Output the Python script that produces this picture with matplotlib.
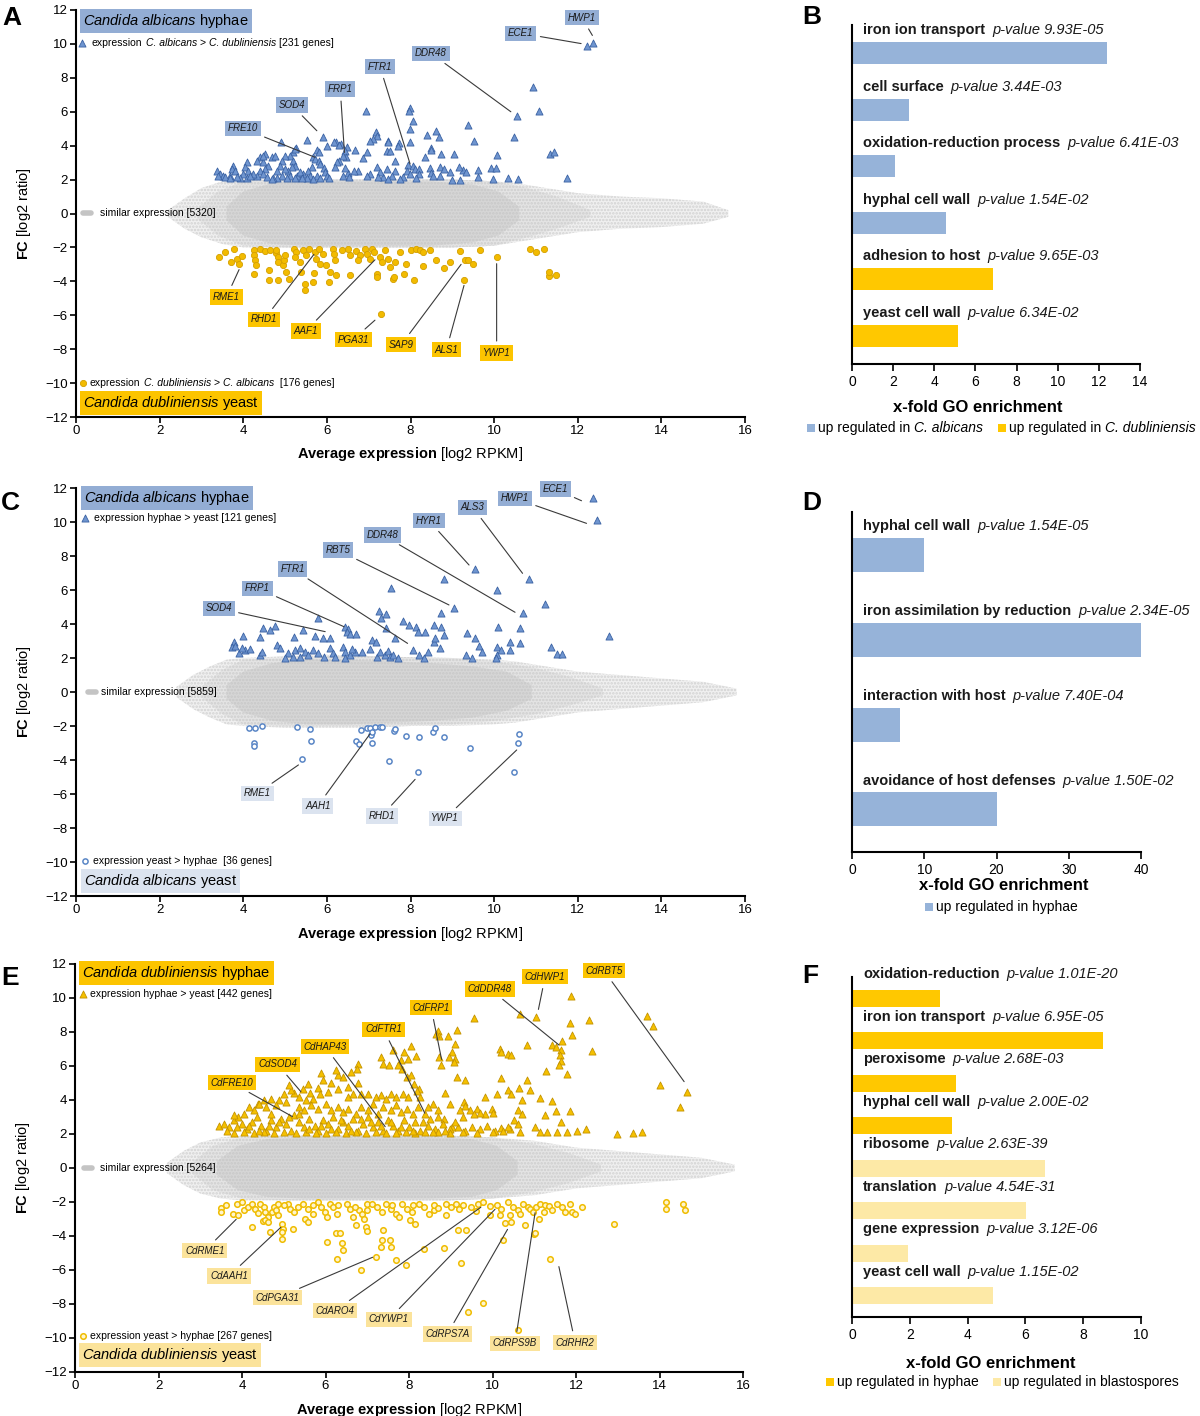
import matplotlib
matplotlib.use("Agg")
import matplotlib.pyplot as plt
from matplotlib.patches import Rectangle
from matplotlib.transforms import blended_transform_factory
import numpy as np

plt.rcParams['font.family'] = ['Liberation Sans', 'DejaVu Sans']
plt.rcParams['mathtext.fontset'] = 'custom'
plt.rcParams['mathtext.rm'] = 'Liberation Sans'
plt.rcParams['mathtext.it'] = 'Liberation Sans:italic'
plt.rcParams['mathtext.bf'] = 'Liberation Sans:bold'
plt.rcParams['hatch.linewidth'] = 1.2

# ---------------------------------------------------------------- data
# Panel A : C. albicans hyphae vs C. dubliniensis yeast
A_UP = [(10.93,7.43),(11.08,6.06),(10.54,5.76),(10.48,4.53),(9.37,5.24),(9.51,4.25),(11.34,3.51),(11.44,3.61),(11.75,2.10),(10.08,3.45),(10.34,2.10),(10.58,2.04),(9.93,2.67),(10.05,2.67),(9.61,2.59),(9.62,2.14),(9.97,2.04),(9.25,2.59),(9.33,2.43),(9.15,2.72),(8.95,2.43),(8.99,2.00),(9.19,2.00),(8.73,3.51),(9.03,3.51),(8.39,4.65),(8.61,4.84),(8.67,4.53),(8.49,3.89),(8.49,3.73),(8.35,3.31),(8.71,2.72),(8.79,2.63),(8.71,2.24),(8.47,2.70),(8.50,2.40),(8.53,2.20),(7.99,6.25),(7.97,6.06),(8.07,5.43),(7.99,4.98),(7.99,4.19),(7.73,4.14),(7.47,4.25),(7.43,3.70),(7.51,3.66),(7.17,4.78),(7.19,4.59),(7.11,4.39),(7.03,4.29),(6.94,6.06),(6.95,3.60),(6.87,3.27),(7.63,3.12),(7.95,2.88),(8.07,2.82),(8.10,2.65),(8.20,2.65),(7.91,2.53),(7.99,2.33),(7.83,2.14),(7.75,2.04),(8.20,2.33),(8.13,2.10),(7.43,2.63),(7.63,2.49),(7.55,2.24),(7.35,2.14),(7.47,2.04),(7.19,2.76),(7.27,2.43),(7.23,2.14),(7.03,2.33),(6.95,2.24),(6.67,3.74),(6.75,2.53),(6.65,2.53),(6.51,2.37),(6.54,2.14),(6.39,2.24),(6.44,2.69),(6.47,3.90),(6.44,3.70),(6.46,3.31),(6.39,3.41),(6.33,4.10),(6.22,4.19),(6.01,4.00),(5.90,4.53),(5.52,4.33),(5.76,3.74),(5.80,3.60),(5.66,3.35),(5.72,3.22),(5.80,3.12),(5.84,2.92),(6.28,3.12),(6.24,3.02),(6.20,2.76),(5.92,2.70),(5.96,2.43),(6.00,2.24),(6.04,2.10),(5.64,2.73),(5.56,2.53),(5.44,2.33),(5.60,2.24),(5.76,2.24),(5.84,2.10),(5.68,2.04),(5.52,2.10),(5.26,3.86),(5.20,3.60),(5.12,3.41),(5.20,3.12),(5.24,2.82),(5.16,2.73),(5.08,2.53),(5.12,2.24),(5.28,2.24),(5.36,2.43),(5.40,2.10),(5.24,2.10),(4.90,4.19),(5.00,3.41),(4.92,3.12),(4.88,2.82),(5.00,2.63),(4.80,2.53),(4.92,2.24),(4.80,2.10),(4.72,2.10),(5.04,2.10),(4.68,3.35),(4.76,3.41),(4.52,3.51),(4.40,3.31),(4.32,3.12),(4.48,3.02),(4.60,2.82),(4.52,2.63),(4.40,2.53),(4.48,2.33),(4.56,2.14),(4.68,2.04),(4.32,2.24),(4.24,2.33),(4.08,3.02),(4.04,2.73),(4.12,2.53),(4.00,2.33),(4.08,2.10),(3.92,2.10),(4.16,2.24),(3.76,2.82),(3.72,2.63),(3.80,2.53),(3.68,2.24),(3.84,2.14),(3.37,2.49),(3.44,2.33),(3.52,2.24),(3.40,2.24),(3.56,2.14),(3.68,2.10),(12.23,9.88),(12.36,10.08),(4.48,3.41),(5.24,3.80),(6.16,4.19),(6.30,4.06),(7.47,4.20),(7.71,4.00)]
A_DOWN = [(3.42,-2.57),(3.56,-2.27),(3.78,-2.08),(3.71,-2.86),(3.86,-2.67),(3.90,-2.96),(3.98,-2.53),(4.26,-2.18),(4.26,-2.47),(4.28,-2.76),(4.30,-3.06),(4.26,-3.55),(4.40,-2.08),(4.52,-2.22),(4.64,-2.18),(4.62,-3.35),(4.62,-3.94),(4.78,-2.33),(4.82,-2.57),(4.84,-2.86),(4.78,-2.14),(4.83,-3.94),(4.94,-3.06),(4.98,-2.76),(5.00,-2.47),(5.02,-3.45),(5.10,-3.84),(5.22,-2.08),(5.26,-2.27),(5.24,-2.57),(5.36,-2.86),(5.38,-3.45),(5.48,-4.14),(5.48,-4.49),(5.42,-2.18),(5.50,-2.47),(5.57,-2.08),(5.66,-4.04),(5.69,-3.51),(5.72,-2.27),(5.74,-2.67),(5.84,-2.96),(5.81,-2.08),(5.90,-2.37),(5.98,-3.06),(6.05,-4.04),(6.08,-3.45),(6.14,-2.08),(6.17,-2.37),(6.20,-2.76),(6.37,-2.18),(6.50,-2.08),(6.55,-2.47),(6.22,-3.60),(6.55,-3.65),(6.70,-2.22),(6.79,-2.47),(6.74,-2.76),(6.91,-2.08),(6.97,-2.37),(7.03,-2.67),(7.09,-2.08),(7.13,-2.27),(7.21,-3.55),(7.21,-3.75),(7.27,-2.57),(7.33,-2.86),(7.30,-5.90),(7.39,-2.18),(7.45,-2.67),(7.51,-3.16),(7.57,-3.84),(7.61,-3.75),(7.63,-2.86),(7.75,-2.27),(7.85,-3.55),(7.90,-2.96),(8.00,-2.18),(8.09,-3.94),(8.13,-2.08),(8.23,-2.18),(8.29,-2.27),(8.29,-3.12),(8.47,-2.18),(8.61,-2.76),(8.80,-3.20),(8.95,-2.86),(9.19,-2.22),(9.31,-2.76),(9.37,-2.73),(9.28,-3.90),(9.49,-2.96),(9.67,-2.18),(10.06,-2.57),(10.86,-2.08),(11.00,-2.27),(11.20,-2.08),(11.32,-3.70),(11.32,-3.45),(11.49,-3.65)]
A_CLOUD_X = [2.2, 2.6, 3.0, 3.5, 4.0, 5.0, 6.0, 7.0, 8.0, 9.0, 10.0, 10.5, 11.0, 11.5, 12.0, 13.0, 14.0, 15.0, 15.6]
A_CLOUD_TOP = [0.2, 0.9, 1.5, 1.9, 2.0, 2.0, 2.0, 2.0, 2.0, 2.0, 1.9, 1.8, 1.6, 1.4, 1.2, 1.0, 0.9, 0.7, 0.2]
A_CLOUD_BOT = [-0.2, -0.9, -1.4, -1.8, -2.0, -2.0, -2.0, -2.0, -2.0, -2.0, -1.9, -1.7, -1.5, -1.3, -1.1, -0.9, -0.8, -0.6, -0.2]
A_MID_X = [2.9, 3.4, 4.0, 5.0, 7.0, 9.0, 10.0, 10.8, 11.5, 12.3]
A_MID_TOP = [0.3, 1.3, 1.9, 2.0, 2.0, 2.0, 1.9, 1.5, 1.0, 0.2]
A_MID_BOT = [-0.3, -1.3, -1.9, -2.0, -2.0, -2.0, -1.9, -1.4, -0.9, -0.2]
A_CORE_X = [3.6, 4.0, 4.7, 5.5, 6.5, 7.5, 8.5, 9.5, 10.1, 10.6]
A_CORE_TOP = [0.4, 1.3, 1.8, 1.9, 1.9, 1.9, 1.9, 1.7, 1.3, 0.4]
A_CORE_BOT = [-0.4, -1.3, -1.8, -1.9, -1.9, -1.9, -1.9, -1.7, -1.3, -0.4]
A_UP_GENES = ["HWP1", "ECE1", "DDR48", "FTR1", "FRP1", "SOD4", "FRE10"]
A_UP_GENE_XY = [(12.35,10.50),(12.08,10.02),(10.40,6.00),(7.99,2.92),(6.42,3.60),(5.76,4.88),(5.72,3.31)]
A_UP_LABEL_XY = [(12.10,11.55),(10.64,10.63),(8.49,9.45),(7.27,8.66),(6.32,7.33),(5.16,6.39),(3.99,5.02)]
A_DOWN_GENES = ["RME1", "RHD1", "AAF1", "PGA31", "SAP9", "ALS1", "YWP1"]
A_DOWN_GENE_XY = [(3.90,-3.31),(5.69,-2.41),(7.15,-2.73),(7.15,-6.29),(9.21,-3.00),(9.28,-4.24),(10.06,-2.96)]
A_DOWN_LABEL_XY = [(3.60,-4.92),(4.50,-6.25),(5.50,-6.92),(6.63,-7.43),(7.78,-7.73),(8.86,-8.02),(10.06,-8.22)]

# Panel C : C. albicans hyphae vs yeast
C_UP = [(12.36,11.39),(12.45,10.11),(12.74,3.29),(9.54,7.23),(10.83,6.64),(8.79,6.64),(7.54,6.09),(10.06,5.98),(11.22,5.15),(9.04,4.92),(10.68,4.62),(8.73,4.62),(7.25,4.76),(7.42,4.56),(7.30,4.37),(5.78,4.33),(6.44,3.84),(6.50,3.70),(6.47,3.55),(6.55,3.39),(6.70,3.39),(5.42,3.64),(5.72,3.31),(5.90,3.15),(6.08,3.19),(5.21,3.25),(4.76,3.90),(4.64,3.64),(4.48,3.78),(4.40,3.25),(4.00,3.31),(3.78,2.96),(3.74,2.66),(3.80,2.72),(3.90,2.27),(4.04,2.47),(3.98,2.56),(4.16,2.53),(4.40,2.17),(4.46,2.37),(4.81,2.76),(4.87,2.56),(5.06,2.27),(5.24,2.47),(5.36,2.60),(5.48,2.37),(5.54,2.17),(5.66,2.47),(5.78,2.27),(5.93,2.07),(5.00,2.00),(5.18,2.07),(5.36,2.07),(6.08,2.56),(6.14,2.27),(6.20,2.07),(6.38,2.66),(6.44,2.37),(6.44,2.02),(6.55,2.17),(6.67,2.37),(6.61,2.53),(6.85,2.37),(7.03,2.53),(7.21,2.07),(7.27,2.37),(7.39,2.17),(7.45,2.41),(7.09,3.05),(7.18,2.96),(7.42,3.78),(7.63,3.19),(7.51,2.07),(7.57,2.17),(7.69,2.02),(7.81,4.17),(7.97,3.94),(8.14,3.84),(8.17,3.55),(8.35,3.55),(8.05,2.47),(8.20,2.17),(8.32,2.02),(8.41,2.37),(8.56,3.94),(8.73,3.84),(8.56,2.92),(8.71,2.56),(8.59,3.19),(8.79,3.35),(9.34,3.45),(9.54,3.19),(9.64,2.72),(9.72,2.37),(9.33,2.17),(9.48,2.02),(10.10,3.84),(10.07,2.66),(10.16,2.47),(10.37,2.47),(10.06,2.17),(10.04,2.02),(10.62,3.74),(10.62,2.86),(10.37,2.96),(11.35,2.66),(11.51,2.21),(11.63,2.21)]
C_DOWN = [(4.14,-2.14),(4.28,-2.14),(4.44,-2.00),(4.25,-3.02),(4.25,-3.16),(5.28,-2.08),(5.60,-2.20),(5.62,-2.86),(5.41,-3.96),(6.70,-2.86),(6.76,-3.06),(6.82,-2.24),(6.95,-2.14),(7.03,-2.14),(7.06,-2.53),(7.09,-2.33),(7.07,-3.02),(7.15,-2.08),(7.27,-2.04),(7.33,-2.08),(7.48,-4.04),(7.60,-2.27),(7.63,-2.20),(7.89,-2.59),(8.20,-2.63),(8.17,-4.73),(8.54,-2.33),(8.59,-2.14),(8.80,-2.67),(9.43,-3.27),(10.48,-4.73),(10.56,-3.02),(10.60,-2.49)]
C_CLOUD_X = [2.4, 2.8, 3.2, 3.6, 4.0, 5.0, 6.0, 7.0, 8.0, 9.0, 10.0, 10.5, 11.0, 11.5, 12.0, 13.0, 14.0, 15.0, 15.8]
C_CLOUD_TOP = [0.3, 1.0, 1.5, 1.9, 2.0, 2.1, 2.2, 2.1, 2.0, 2.0, 1.9, 1.8, 1.6, 1.4, 1.2, 1.0, 0.8, 0.6, 0.2]
C_CLOUD_BOT = [-0.3, -1.0, -1.5, -1.9, -2.0, -2.1, -2.1, -2.1, -2.0, -2.0, -1.9, -1.8, -1.6, -1.4, -1.2, -1.0, -0.8, -0.6, -0.2]
C_MID_X = [3.0, 3.5, 4.0, 5.0, 7.0, 9.0, 10.0, 11.0, 11.8, 12.6]
C_MID_TOP = [0.3, 1.3, 1.9, 2.0, 2.1, 2.0, 1.8, 1.4, 0.9, 0.2]
C_MID_BOT = [-0.3, -1.3, -1.9, -2.0, -2.0, -1.9, -1.7, -1.3, -0.8, -0.2]
C_CORE_X = [3.6, 4.0, 4.7, 5.5, 6.5, 7.5, 8.5, 9.5, 10.3, 10.9]
C_CORE_TOP = [0.4, 1.2, 1.7, 1.9, 1.9, 1.8, 1.7, 1.5, 1.2, 0.4]
C_CORE_BOT = [-0.4, -1.2, -1.7, -1.9, -1.9, -1.8, -1.7, -1.5, -1.1, -0.4]
C_UP_GENES = ["ECE1", "HWP1", "ALS3", "HYR1", "DDR48", "RBT5", "FTR1", "FRP1", "SOD4"]
C_UP_GENE_XY = [(12.09,11.25),(12.21,9.92),(10.68,6.98),(9.40,7.47),(10.50,4.69),(8.92,5.12),(7.93,2.86),(6.41,3.84),(5.96,3.55)]
C_UP_LABEL_XY = [(11.46,11.94),(10.50,11.39),(9.49,10.86),(8.44,10.08),(7.33,9.24),(6.26,8.35),(5.18,7.24),(4.34,6.10),(3.41,4.92)]
C_DOWN_GENES = ["RME1", "AAH1", "RHD1", "YWP1"]
C_DOWN_GENE_XY = [(5.32,-4.29),(7.03,-2.47),(8.11,-5.14),(10.54,-3.41)]
C_DOWN_LABEL_XY = [(4.34,-5.96),(5.78,-6.71),(7.31,-7.29),(8.83,-7.43)]

# Panel E : C. dubliniensis hyphae vs yeast
E_UP = [(11.88,10.12),(13.69,8.94),(13.85,8.35),(12.32,8.70),(11.85,8.54),(11.05,8.90),(10.65,9.04),(9.55,8.80),(11.90,7.80),(10.83,7.26),(11.43,7.22),(11.52,7.09),(11.67,7.48),(11.64,6.97),(11.62,6.63),(11.64,6.30),(11.60,6.04),(11.29,5.71),(11.79,5.51),(12.38,6.87),(10.18,6.99),(10.21,6.83),(10.36,6.69),(10.44,6.63),(10.83,5.16),(10.63,4.70),(10.90,4.60),(10.21,5.30),(10.38,4.60),(10.71,3.98),(10.44,4.37),(11.43,3.94),(11.13,4.11),(11.25,3.09),(11.52,3.35),(11.85,3.33),(11.64,2.70),(10.60,3.43),(10.71,3.19),(10.51,2.80),(10.60,2.60),(10.42,2.30),(10.65,2.10),(11.01,2.40),(11.13,2.10),(11.31,2.10),(11.55,2.10),(11.79,2.10),(12.02,2.17),(12.24,2.30),(12.98,2.00),(13.37,2.05),(13.57,2.10),(14.00,4.90),(14.49,3.58),(14.67,4.47),(9.82,4.17),(10.10,4.33),(10.21,2.36),(9.98,3.48),(10.00,3.23),(9.82,3.19),(9.64,3.48),(9.70,3.23),(9.46,3.43),(9.55,3.19),(9.31,3.88),(9.35,3.62),(9.23,3.43),(9.29,2.99),(9.14,5.35),(9.35,5.20),(9.02,6.83),(9.11,6.44),(9.08,6.24),(9.14,8.11),(9.11,7.28),(8.93,7.76),(8.96,6.54),(8.86,4.41),(8.69,8.07),(8.71,7.76),(8.65,7.91),(8.77,6.04),(8.71,6.54),(8.99,3.74),(8.85,2.89),(9.02,2.40),(8.57,3.74),(8.69,3.39),(8.69,3.00),(8.51,2.89),(8.45,3.60),(8.39,3.19),(8.27,4.17),(8.24,4.67),(8.17,6.59),(8.05,7.17),(7.87,6.83),(7.98,6.44),(7.80,6.34),(7.62,6.93),(7.83,5.85),(7.95,5.35),(8.04,5.45),(8.12,4.92),(8.19,4.53),(7.32,6.54),(7.38,6.14),(7.52,6.04),(7.74,6.04),(6.79,6.14),(6.76,5.85),(6.61,5.65),(6.31,5.45),(6.25,5.75),(6.43,5.35),(5.89,5.59),(5.95,5.16),(6.13,5.00),(6.55,4.76),(6.79,5.00),(5.81,4.72),(5.57,4.96),(5.45,4.67),(5.62,4.41),(5.87,4.37),(6.07,4.47),(6.31,4.67),(6.55,4.17),(6.67,4.37),(6.85,4.37),(7.02,4.33),(7.20,4.17),(7.32,4.27),(7.44,4.07),(7.56,4.33),(7.68,4.17),(7.86,4.37),(7.98,4.17),(5.00,4.33),(5.24,4.41),(5.18,4.61),(4.88,4.02),(5.06,3.88),(5.36,4.17),(5.54,3.98),(5.71,4.07),(4.38,3.78),(4.52,3.98),(4.70,4.07),(5.36,3.60),(5.48,3.39),(5.65,3.68),(5.83,3.48),(6.01,3.78),(6.13,3.39),(6.31,3.58),(6.43,3.29),(6.55,3.48),(6.73,3.19),(6.85,3.58),(7.02,3.39),(7.14,3.78),(7.26,3.19),(7.38,3.58),(7.56,3.39),(7.68,3.68),(7.80,3.29),(7.95,3.48),(8.10,3.19),(8.21,3.58),
        (3.45,2.46),(3.57,2.60),(3.69,2.40),(3.81,2.80),(3.90,2.99),(3.99,2.60),(4.11,2.30),(4.23,2.70),(4.35,2.99),(4.46,2.50),(4.58,2.20),(4.70,2.80),(4.82,2.40),(4.94,2.89),(5.06,2.60),(5.18,2.20),(5.24,3.09),(5.36,2.70),(5.48,2.40),(5.60,2.89),(5.74,2.50),(5.83,2.20),(5.95,2.80),(6.07,2.60),(6.19,2.99),(6.31,2.30),(6.43,2.70),(6.55,2.50),(6.67,2.89),(6.79,2.20),(6.90,2.60),(7.02,2.99),(7.14,2.40),(7.26,2.70),(7.38,2.20),(7.50,2.80),(7.62,2.50),(7.74,2.20),(7.88,2.80),(8.00,2.40),(8.15,2.70),(8.27,2.20),(8.45,2.50),(8.63,2.30),(8.81,2.60),(8.99,2.30),(9.17,2.40),(9.35,2.20),(9.52,2.44),(9.70,2.30),(9.88,2.50),(10.06,2.20),(10.26,2.20),(10.36,2.44),
        (3.81,2.05),(4.05,2.10),(4.29,2.05),(4.52,2.10),(4.76,2.05),(5.00,2.10),(5.30,2.05),(5.54,2.10),(5.77,2.05),(6.01,2.05),(6.25,2.10),(6.49,2.05),(6.73,2.10),(6.96,2.05),(7.20,2.10),(7.44,2.05),(7.68,2.05),(7.92,2.10),(8.15,2.05),(8.39,2.10),(8.69,2.10),(8.99,2.05),(9.29,2.10),(9.64,2.05),(10.00,2.10),
        (3.63,2.20),(3.87,2.40),(4.17,2.50),(4.40,2.20),(4.64,2.50),(4.88,2.70),(5.12,2.99),(5.36,3.19),(5.60,2.30),(5.89,2.50),(6.13,2.30),(6.37,2.80),(6.61,2.20),(6.85,2.89),(7.08,2.70),(7.32,2.50),(7.56,2.70),(7.80,2.40),(8.10,2.20),(8.33,2.70),(8.57,2.10),(8.87,2.20),(9.11,2.70),
        (5.12,4.86),(4.40,3.74),(4.58,3.58),(4.82,3.68),(4.70,3.19),(4.29,3.39),(4.05,3.19),(3.81,3.09),(4.17,3.58)]
E_DOWN = [(3.50,-2.33),(3.50,-2.59),(3.61,-2.20),(3.79,-2.68),(3.91,-2.78),(3.89,-2.10),(4.00,-2.00),(4.05,-2.49),(4.15,-2.29),(4.24,-2.10),(4.32,-2.39),(4.38,-2.64),(4.24,-3.46),(4.44,-2.10),(4.53,-2.29),(4.56,-2.59),(4.62,-2.88),(4.50,-3.11),(4.56,-3.03),(4.62,-3.17),(4.72,-2.59),(4.76,-2.29),(4.86,-2.10),(4.68,-3.76),(4.81,-2.49),(4.86,-2.78),(4.95,-3.27),(4.98,-3.56),(4.95,-3.76),(4.95,-4.15),(5.09,-2.10),(5.15,-2.39),(5.24,-2.59),(5.33,-2.29),(5.21,-3.56),(5.45,-2.10),(5.57,-2.39),(5.69,-2.68),(5.51,-2.98),(5.57,-3.17),(5.81,-2.00),(5.90,-2.29),(5.98,-2.59),(6.04,-2.88),(6.04,-4.34),(6.10,-2.10),(6.18,-2.29),(6.28,-2.68),(6.26,-3.82),(6.34,-3.82),(6.28,-5.38),(6.40,-4.40),(6.42,-4.83),(6.52,-2.10),(6.58,-2.39),(6.66,-2.88),(6.73,-3.37),(6.81,-2.49),(6.87,-2.68),(6.93,-2.98),(6.99,-2.10),(6.85,-6.00),(6.97,-3.46),(6.99,-3.72),(7.20,-5.24),(7.11,-2.10),(7.23,-2.29),(7.35,-2.59),(7.35,-4.25),(7.32,-4.64),(7.37,-3.66),(7.46,-2.10),(7.58,-2.39),(7.70,-2.68),(7.76,-2.88),(7.55,-4.21),(7.58,-4.64),(7.70,-5.42),(7.94,-5.71),(7.84,-2.10),(7.96,-2.39),(8.06,-2.59),(8.15,-3.27),(8.03,-3.07),(8.35,-4.77),(8.23,-2.10),(8.35,-2.29),(8.47,-2.68),(8.59,-2.49),(8.85,-4.73),(8.89,-2.10),(9.00,-2.29),(9.12,-2.10),(8.89,-2.78),(9.18,-3.62),(9.36,-3.62),(9.24,-5.57),(9.42,-8.45),(9.77,-7.96),(9.48,-2.29),(9.66,-2.10),(9.77,-2.00),(9.95,-2.25),(9.93,-2.78),(10.19,-2.78),(10.25,-4.21),(10.31,-3.23),(10.45,-3.17),(10.37,-2.00),(10.49,-2.29),(10.60,-2.49),(10.66,-2.68),(10.43,-2.78),(10.60,-9.52),(10.72,-2.10),(10.84,-2.29),(10.90,-2.39),(10.96,-2.59),(11.04,-2.29),(11.14,-2.10),(11.26,-2.20),(10.78,-3.37),(11.00,-3.86),(11.02,-3.82),(11.11,-2.98),(11.23,-2.59),(11.35,-2.25),(11.43,-2.45),(11.55,-2.10),(11.67,-2.29),(11.73,-2.59),(11.37,-5.38),(11.85,-2.10),(11.90,-2.59),(11.97,-2.68),(12.14,-2.29),(12.91,-3.31),(14.16,-2.00),(14.16,-2.39),(14.57,-2.10),(14.60,-2.45),
          (5.00,-2.20),(5.70,-2.15),(6.30,-2.20),(6.70,-2.30),(7.00,-2.45),(7.60,-2.20),(8.10,-2.20),(8.60,-2.15),(8.70,-2.35),(9.20,-2.40),(9.30,-2.20),(9.60,-2.50),(10.10,-2.15),(10.20,-2.40)]
E_CLOUD_X = [2.2, 2.6, 3.0, 3.5, 4.0, 5.0, 6.0, 7.0, 8.0, 9.0, 10.0, 10.5, 11.0, 11.5, 12.0, 13.0, 14.0, 15.0, 15.8]
E_CLOUD_TOP = [0.3, 1.0, 1.5, 1.8, 1.9, 1.9, 1.9, 1.9, 1.9, 1.9, 1.8, 1.7, 1.6, 1.4, 1.2, 1.0, 0.8, 0.6, 0.2]
E_CLOUD_BOT = [-0.3, -1.0, -1.5, -1.8, -1.9, -1.9, -1.9, -1.9, -1.9, -1.9, -1.8, -1.7, -1.6, -1.4, -1.2, -1.0, -0.8, -0.6, -0.2]
E_MID_X = [2.8, 3.3, 4.0, 5.0, 7.0, 9.0, 10.0, 11.0, 11.8, 12.6]
E_MID_TOP = [0.3, 1.3, 1.8, 1.9, 1.9, 1.9, 1.8, 1.4, 0.9, 0.2]
E_MID_BOT = [-0.3, -1.3, -1.8, -1.9, -1.9, -1.9, -1.8, -1.4, -0.9, -0.2]
E_CORE_X = [3.4, 3.9, 4.6, 5.5, 6.5, 7.5, 8.5, 9.5, 10.1, 10.6]
E_CORE_TOP = [0.4, 1.3, 1.7, 1.8, 1.8, 1.8, 1.8, 1.7, 1.3, 0.4]
E_CORE_BOT = [-0.4, -1.3, -1.7, -1.8, -1.8, -1.8, -1.8, -1.7, -1.3, -0.4]
E_UP_GENES = ["CdFRE10", "CdSOD4", "CdHAP43", "CdFTR1", "CdFRP1", "CdDDR48", "CdHWP1", "CdRBT5"]
E_UP_GENE_XY = [(5.21,3.02),(5.41,4.49),(7.43,2.43),(8.38,3.22),(8.78,6.39),(11.59,7.24),(11.10,9.33),(14.59,5.08)]
E_UP_LABEL_XY = [(3.75,5.02),(4.85,6.10),(5.99,7.14),(7.39,8.16),(8.53,9.43),(9.94,10.53),(11.26,11.25),(12.67,11.61)]
E_DOWN_GENES = ["CdRME1", "CdAAH1", "CdPGA31", "CdARO4", "CdYWP1", "CdRPS7A", "CdRPS9B", "CdRHR2"]
E_DOWN_GENE_XY = [(3.86,-3.02),(4.93,-3.49),(7.13,-5.25),(9.72,-2.31),(10.06,-2.43),(10.36,-3.61),(11.02,-2.63),(11.59,-5.80)]
E_DOWN_LABEL_XY = [(3.11,-4.86),(3.69,-6.35),(4.85,-7.63),(6.23,-8.39),(7.52,-8.90),(8.92,-9.76),(10.54,-10.31),(11.98,-10.27)]

X_TICKS = [0, 2, 4, 6, 8, 10, 12, 14, 16]
Y_TICKS = [-12, -10, -8, -6, -4, -2, 0, 2, 4, 6, 8, 10, 12]

# GO enrichment panels
B_TERMS = ["iron ion transport", "cell surface", "oxidation-reduction process", "hyphal cell wall", "adhesion to host", "yeast cell wall"]
B_PVALUES = ["9.93E-05", "3.44E-03", "6.41E-03", "1.54E-02", "9.65E-03", "6.34E-02"]
B_FOLD = [12.38, 2.77, 2.11, 4.56, 6.86, 5.14]
B_GROUP = [0, 0, 0, 0, 1, 1]
B_TICKS = [0, 2, 4, 6, 8, 10, 12, 14]

D_TERMS = ["hyphal cell wall", "iron assimilation by reduction", "interaction with host", "avoidance of host defenses"]
D_PVALUES = ["1.54E-05", "2.34E-05", "7.40E-04", "1.50E-02"]
D_FOLD = [9.94, 40.0, 6.6, 20.0]
D_GROUP = [0, 0, 0, 0]
D_TICKS = [0, 10, 20, 30, 40]

F_TERMS = ["oxidation-reduction", "iron ion transport", "peroxisome", "hyphal cell wall", "ribosome", "translation", "gene expression", "yeast cell wall"]
F_PVALUES = ["1.01E-20", "6.95E-05", "2.68E-03", "2.00E-02", "2.63E-39", "4.54E-31", "3.12E-06", "1.15E-02"]
F_FOLD = [3.04, 8.68, 3.60, 3.46, 6.69, 6.03, 1.93, 4.87]
F_GROUP = [0, 0, 0, 0, 1, 1, 1, 1]
F_TICKS = [0, 2, 4, 6, 8, 10]

# ---------------------------------------------------------------- styles
W, H = 1200, 1416
BLUE_BOX = '#93add4'
LIGHT_BLUE_BOX = '#dbe3ef'
YELLOW_BOX = '#fcc400'
LIGHT_YELLOW_BOX = '#fbe39b'

fig = plt.figure(figsize=(W / 100, H / 100), dpi=100)


def add_ax(box):
    l, t, r, b = box
    return fig.add_axes([l / W, 1 - b / H, (r - l) / W, (b - t) / H])


def px_ax(box, px, py):
    l, t, r, b = box
    return ((px - l) / (r - l), 1 - (py - t) / (b - t))


def rich_text(x, y, pieces, transform, fontsize, gap=3.0, va='center', zorder=6):
    """Draw consecutive text pieces (string, style) side by side."""
    prev = None
    for s, st in pieces:
        if prev is None:
            prev = fig.text(x, y, s, transform=transform, fontsize=fontsize, style=st,
                            ha='left', va=va, zorder=zorder)
        else:
            prev = fig.add_artist(matplotlib.text.Annotation(
                s, xy=(1, 0.5), xycoords=prev, xytext=(gap, 0), textcoords='offset points',
                ha='left', va='center', fontsize=fontsize, style=st, zorder=zorder))
    return prev


def scatter_panel(box, cloud, mid, core, up, down, up_style, down_style,
                  up_lab, down_lab, up_color, down_color, legend):
    ax = add_ax(box)
    ax.fill_between(cloud[0], cloud[2], cloud[1], facecolor='#f0f0f0', edgecolor='#d2d2d2',
                    hatch='.....', lw=0, zorder=1)
    ax.fill_between(mid[0], mid[2], mid[1], facecolor='#e4e4e4', edgecolor='#cdcdcd',
                    hatch='.....', lw=0, zorder=1.05)
    ax.fill_between(core[0], core[2], core[1], facecolor='#d6d6d6', edgecolor='#c8c8c8',
                    hatch='.....', lw=0, zorder=1.1)
    ux, uy = zip(*up)
    dx, dy = zip(*down)
    ax.scatter(ux, uy, zorder=3, **up_style)
    ax.scatter(dx, dy, zorder=3, **down_style)
    for (names, gxy, lxy), fc in ((up_lab, up_color), (down_lab, down_color)):
        for n, g, l in zip(names, gxy, lxy):
            ax.annotate(n, xy=g, xytext=l, textcoords='data', ha='center', va='center',
                        fontsize=7, style='italic', color='#1a1a1a', zorder=5,
                        bbox=dict(boxstyle='square,pad=0.28', fc=fc, ec='none'),
                        arrowprops=dict(arrowstyle='-', color='#3a3a3a', lw=0.8,
                                        shrinkA=3, shrinkB=0))
    ax.set_xlim(0, 16)
    ax.set_ylim(-12, 12)
    ax.set_xticks(X_TICKS)
    ax.set_yticks(Y_TICKS)
    for s in ('top', 'right'):
        ax.spines[s].set_visible(False)
    for s in ('left', 'bottom'):
        ax.spines[s].set_linewidth(1.5)
    ax.tick_params(labelsize=9.5, length=4, width=1.2, pad=2)
    ax.set_xlabel(r"$\bf{Average\ expression}$ [log2 RPKM]", fontsize=10.5)
    ax.xaxis.set_label_coords(0.5, -0.07)
    ax.set_ylabel(r"$\bf{FC}$ [log2 ratio]", fontsize=10.5)
    ax.yaxis.set_label_coords(-0.064, 0.5)
    for kind, items in legend:
        if kind == 'box':
            (px, py), txt, fc = items
            x, y = px_ax(box, px, py)
            ax.text(x, y, txt, transform=ax.transAxes, fontsize=10.5, ha='left', va='center',
                    bbox=dict(boxstyle='square,pad=0.22', fc=fc, ec='none'), zorder=6)
        elif kind == 'mark':
            (mx, my), (tx, ty), pieces, style = items
            x, y = px_ax(box, mx, my)
            ax.scatter([x], [y], transform=ax.transAxes, clip_on=False, zorder=6, **style)
            x, y = px_ax(box, tx, ty)
            rich_text(x, y, pieces, ax.transAxes, 7.5, gap=2.2)
        elif kind == 'gray':
            (mx, my), (tx, ty), txt = items
            x0, y0 = px_ax(box, mx - 4, my)
            x1, _ = px_ax(box, mx + 4, my)
            ax.plot([x0, x1], [y0, y0], transform=ax.transAxes, color='#c4c4c4', lw=4,
                    solid_capstyle='round', zorder=6)
            x, y = px_ax(box, tx, ty)
            ax.text(x, y, txt, transform=ax.transAxes, fontsize=7.5, ha='left', va='center', zorder=6)
    return ax


TRI_BLUE = dict(marker='^', s=26, fc='#6f95cf', ec='#3a62a3', lw=0.6)
CIRC_YEL = dict(marker='o', s=20, fc='#f2bb00', ec='#d49f00', lw=0.6)
CIRC_OPEN_BLUE = dict(marker='o', s=14, fc='white', ec='#5a86c6', lw=1.1)
TRI_YEL = dict(marker='^', s=26, fc='#f5c000', ec='#c49300', lw=0.6)
CIRC_OPEN_YEL = dict(marker='o', s=16, fc='#fff5cc', ec='#efbc00', lw=1.1)

A_BOX = (76, 10, 745, 417)
C_BOX = (76, 488, 745, 896)
E_BOX = (75, 964, 743, 1372)

N, I = 'normal', 'italic'
scatter_panel(A_BOX, (A_CLOUD_X, A_CLOUD_TOP, A_CLOUD_BOT), (A_MID_X, A_MID_TOP, A_MID_BOT),
              (A_CORE_X, A_CORE_TOP, A_CORE_BOT),
              A_UP, A_DOWN, TRI_BLUE, CIRC_YEL,
              (A_UP_GENES, A_UP_GENE_XY, A_UP_LABEL_XY), (A_DOWN_GENES, A_DOWN_GENE_XY, A_DOWN_LABEL_XY),
              BLUE_BOX, YELLOW_BOX,
              [('box', ((83, 21), r"$\it{Candida\ albicans}$ hyphae", BLUE_BOX)),
               ('mark', ((82, 43), (92, 43), [("expression", N), ("C. albicans", I), (">", N),
                                               ("C. dubliniensis", I), ("[231 genes]", N)], TRI_BLUE)),
               ('gray', ((87, 213), (100, 213), "similar expression [5320]")),
               ('mark', ((83, 383), (90, 383), [("expression", N), ("C. dubliniensis", I), (">", N),
                                                 ("C. albicans", I), (" [176 genes]", N)], CIRC_YEL)),
               ('box', ((83, 403), r"$\it{Candida\ dubliniensis}$ yeast", YELLOW_BOX))])

scatter_panel(C_BOX, (C_CLOUD_X, C_CLOUD_TOP, C_CLOUD_BOT), (C_MID_X, C_MID_TOP, C_MID_BOT),
              (C_CORE_X, C_CORE_TOP, C_CORE_BOT),
              C_UP, C_DOWN, TRI_BLUE, CIRC_OPEN_BLUE,
              (C_UP_GENES, C_UP_GENE_XY, C_UP_LABEL_XY), (C_DOWN_GENES, C_DOWN_GENE_XY, C_DOWN_LABEL_XY),
              BLUE_BOX, LIGHT_BLUE_BOX,
              [('box', ((84, 498), r"$\it{Candida\ albicans}$ hyphae", BLUE_BOX)),
               ('mark', ((85, 518), (94, 518), [("expression hyphae > yeast [121 genes]", N)], TRI_BLUE)),
               ('gray', ((92, 692), (101, 692), "similar expression [5859]")),
               ('mark', ((85, 861), (93, 861), [("expression yeast > hyphae  [36 genes]", N)], CIRC_OPEN_BLUE)),
               ('box', ((84, 881), r"$\it{Candida\ albicans}$ yeast", LIGHT_BLUE_BOX))])

scatter_panel(E_BOX, (E_CLOUD_X, E_CLOUD_TOP, E_CLOUD_BOT), (E_MID_X, E_MID_TOP, E_MID_BOT),
              (E_CORE_X, E_CORE_TOP, E_CORE_BOT),
              E_UP, E_DOWN, TRI_YEL, CIRC_OPEN_YEL,
              (E_UP_GENES, E_UP_GENE_XY, E_UP_LABEL_XY), (E_DOWN_GENES, E_DOWN_GENE_XY, E_DOWN_LABEL_XY),
              YELLOW_BOX, LIGHT_YELLOW_BOX,
              [('box', ((82, 973), r"$\it{Candida\ dubliniensis}$ hyphae", YELLOW_BOX)),
               ('mark', ((83, 994), (90, 994), [("expression hyphae > yeast [442 genes]", N)], TRI_YEL)),
               ('gray', ((88, 1168), (100, 1168), "similar expression [5264]")),
               ('mark', ((83, 1336), (90, 1336), [("expression yeast > hyphae [267 genes]", N)], CIRC_OPEN_YEL)),
               ('box', ((82, 1355), r"$\it{Candida\ dubliniensis}$ yeast", LIGHT_YELLOW_BOX))])


# ---------------------------------------------------------------- bar panels
def bar_panel(box, terms, pvals, fold, group, colors, ticks, label_off, bar_h):
    ax = add_ax(box)
    n = len(terms)
    ypos = np.arange(n)
    ax.barh(ypos, fold, height=bar_h, color=[colors[g] for g in group], zorder=2)
    ax.set_ylim(n - 0.5, -0.5)
    ax.set_xlim(ticks[0], ticks[-1])
    ax.set_xticks(ticks)
    ax.set_yticks([])
    for s in ('top', 'right'):
        ax.spines[s].set_visible(False)
    for s in ('left', 'bottom'):
        ax.spines[s].set_linewidth(1.5)
    ax.tick_params(axis='x', labelsize=10, length=5, width=1.2, pad=3)
    trans = blended_transform_factory(ax.transAxes, ax.transData)
    x0 = 11 / (box[2] - box[0])
    for i, (t, p) in enumerate(zip(terms, pvals)):
        tt = ax.text(x0, i - label_off, t, transform=trans, fontsize=10.5, fontweight='bold',
                     ha='left', va='center', color='#1a1a1a', clip_on=False)
        ax.annotate("p-value " + p, xy=(1, 0.5), xycoords=tt, xytext=(5, 0),
                    textcoords='offset points', ha='left', va='center', fontsize=10.5,
                    style='italic', color='#1a1a1a')
    return ax


BLUE_BAR = '#96b3d9'
YEL_BAR = '#ffc800'
LIGHT_YEL_BAR = '#fde9a6'

bar_panel((852, 25, 1140, 364), B_TERMS, B_PVALUES, B_FOLD, B_GROUP, [BLUE_BAR, YEL_BAR], B_TICKS, 0.41, 0.39)
bar_panel((852, 512, 1141, 852), D_TERMS, D_PVALUES, D_FOLD, D_GROUP, [BLUE_BAR], D_TICKS, 0.34, 0.40)
bar_panel((852, 977, 1141, 1317), F_TERMS, F_PVALUES, F_FOLD, F_GROUP, [YEL_BAR, LIGHT_YEL_BAR], F_TICKS, 0.57, 0.40)


def ftext(px, py, s, **kw):
    return fig.text(px / W, 1 - py / H, s, **kw)


def fsquare(px, py, color, size=8):
    fig.add_artist(Rectangle(((px - size / 2) / W, 1 - (py + size / 2) / H), size / W, size / H,
                             transform=fig.transFigure, color=color, lw=0))


for (cx, cy) in ((978, 407), (1004, 886), (991, 1363)):
    ftext(cx, cy, "x-fold GO enrichment", fontsize=12, fontweight='bold', ha='center', va='center')

fsquare(811, 428, BLUE_BAR)
rich_text(818 / W, 1 - 428 / H, [("up regulated in", N), ("C. albicans", I)], fig.transFigure, 10, gap=2.8)
fsquare(1002, 428, YEL_BAR)
rich_text(1009 / W, 1 - 428 / H, [("up regulated in", N), ("C. dubliniensis", I)], fig.transFigure, 10, gap=2.8)
fsquare(929, 907, BLUE_BAR)
ftext(936, 907, "up regulated in hyphae", fontsize=10, va='center')
fsquare(830, 1382, YEL_BAR)
ftext(837, 1382, "up regulated in hyphae", fontsize=10, va='center')
fsquare(997, 1382, LIGHT_YEL_BAR)
ftext(1004, 1382, "up regulated in blastospores", fontsize=10, va='center')

# panel letters
for letter, px, py in (("A", 2, 18), ("B", 802, 17), ("C", 1, 503), ("D", 802, 503), ("E", 1, 978), ("F", 802, 976)):
    ftext(px, py, letter, fontsize=19, fontweight='bold', ha='left', va='center')

fig.savefig("out.png", dpi=100)
